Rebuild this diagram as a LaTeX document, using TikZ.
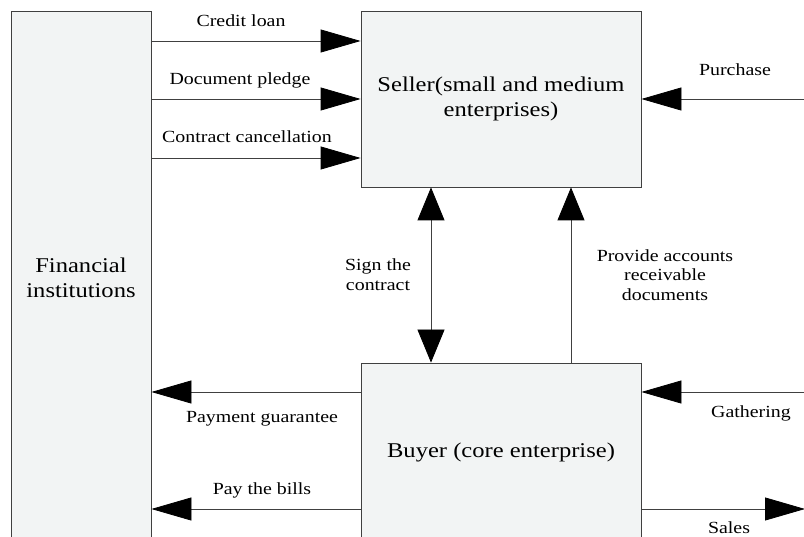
\documentclass[tikz,border=0pt]{standalone}
\usepackage{fontspec}
\setmainfont{Liberation Serif}[FakeStretch=1.17]
\usetikzlibrary{arrows.meta}
\definecolor{boxfill}{HTML}{F2F4F4}
\definecolor{linegray}{HTML}{404040}
\tikzset{
  box/.style={draw=linegray, line width=0.8pt, fill=boxfill, inner sep=0pt, align=center,
    font=\fontsize{21}{25}\selectfont},
  lbl/.style={inner sep=0pt, align=center, font=\fontsize{17}{19.7}\selectfont},
  conn/.style={draw=linegray, line width=0.8pt},
  harr/.style={conn, -{Triangle[length=40pt,width=23pt,color=black]}},
  varr/.style={conn, -{Triangle[length=33pt,width=27pt,color=black]}},
  vdarr/.style={conn, {Triangle[length=33pt,width=27pt,color=black]}-{Triangle[length=33pt,width=27pt,color=black]}}
}
\begin{document}
\begin{tikzpicture}[x=1pt,y=-1pt]
\useasboundingbox (0,0) rectangle (804,537);
\clip (0,0) rectangle (804,537);
\fill[white] (0,0) rectangle (804,537);

% boxes
\node[box, minimum width=140pt, minimum height=534pt] (fin) at (81,278) {Financial\\institutions};
\node[box, minimum width=280pt, minimum height=176pt] (seller) at (501,99) {Seller(small and medium\\enterprises)};
\node[box, minimum width=280pt, minimum height=178pt] (buyer) at (501,452) {Buyer (core enterprise)};

% helper coordinates
\path ([yshift=58pt]seller.west) coordinate (s1)
      (seller.west) coordinate (s2)
      ([yshift=-59pt]seller.west) coordinate (s3)
      ([yshift=60pt]buyer.west) coordinate (b1)
      ([yshift=-57pt]buyer.west) coordinate (b2);
\coordinate (pR) at (804,99);
\coordinate (gR) at (804,392);
\coordinate (sR) at (805,509);

% finance -> seller
\draw[harr] (s1 -| fin.east) -- (s1);
\draw[harr] (s2 -| fin.east) -- (s2);
\draw[harr] (s3 -| fin.east) -- (s3);
% purchase
\draw[harr] (pR) -- (pR -| seller.east);
% buyer -> finance
\draw[harr] (b1) -- (b1 -| fin.east);
\draw[harr] (b2) -- (b2 -| fin.east);
% gathering, sales
\draw[harr] (gR) -- (gR -| buyer.east);
\draw[harr] (sR -| buyer.east) -- (sR);
% vertical
\draw[vdarr] ([xshift=-70pt]seller.south) -- ([xshift=-70pt]buyer.north);
\draw[varr] ([xshift=70pt]buyer.north) -- ([xshift=70pt]seller.south);

% labels
\node[lbl] (lcl) at (241,21) {Credit loan};
\node[lbl] (ldp) at (240,80) {Document pledge};
\node[lbl] (lcc) at (247,137) {Contract cancellation};
\node[lbl] (lpu) at (735,70) {Purchase};
\node[lbl] (lsc) at (378,275) {Sign the\\contract};
\node[lbl] (lpa) at (665,275) {Provide accounts\\receivable\\documents};
\node[lbl] (lpg) at (262,419) {Payment guarantee};
\node[lbl] (lpb) at (262,490) {Pay the bills};
\node[lbl] (lga) at (751,413) {Gathering};
\node[lbl] (lsa) at (729,528) {Sales};
\end{tikzpicture}
\end{document}
